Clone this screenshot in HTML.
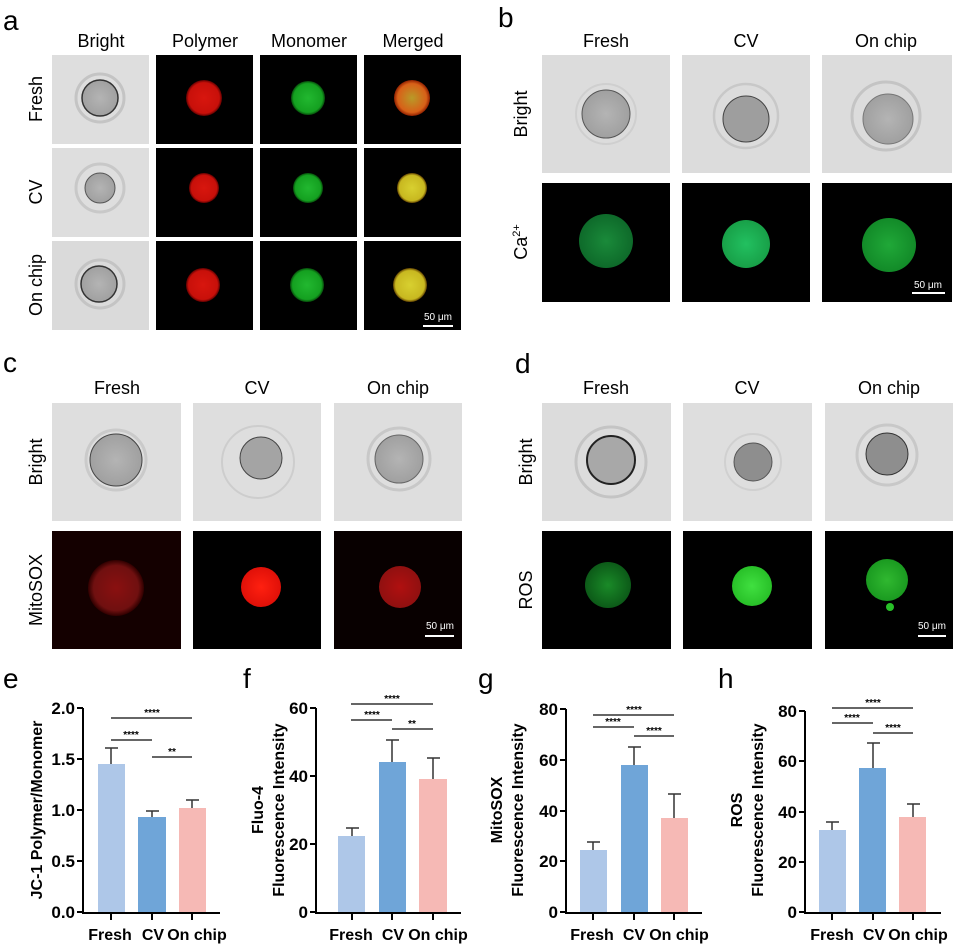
<!DOCTYPE html>
<html><head><meta charset="utf-8"><style>
html,body{margin:0;padding:0;background:#fff}
svg{display:block}
text{font-family:"Liberation Sans",Arial,sans-serif}
.h{font-size:18px;text-anchor:middle}
.L{font-size:28px}
.tk{font-size:17px;font-weight:bold;text-anchor:end}
.xl{font-size:16px;font-weight:bold;text-anchor:middle}
.yt{font-size:16px;font-weight:bold;text-anchor:middle}
.st{font-size:10px;font-weight:bold;text-anchor:middle}
.sb{font-size:10px;fill:#fff;text-anchor:middle}
</style></head><body>
<svg width="955" height="945" viewBox="0 0 955 945" xmlns="http://www.w3.org/2000/svg">
<defs>
<radialGradient id="gR"><stop offset="0" stop-color="#d8160e"/><stop offset="0.85" stop-color="#c8100a"/><stop offset="1" stop-color="#600000"/></radialGradient>
<radialGradient id="gG"><stop offset="0" stop-color="#22b830"/><stop offset="0.85" stop-color="#14a020"/><stop offset="1" stop-color="#064a0a"/></radialGradient>
<radialGradient id="gY"><stop offset="0" stop-color="#d8d030"/><stop offset="0.85" stop-color="#c8b820"/><stop offset="1" stop-color="#604000"/></radialGradient>
<radialGradient id="gO"><stop offset="0" stop-color="#b89a28"/><stop offset="0.8" stop-color="#d86018"/><stop offset="1" stop-color="#902000"/></radialGradient>
<radialGradient id="gG2"><stop offset="0" stop-color="#1a8a3a"/><stop offset="1" stop-color="#0e6a2a"/></radialGradient>
<radialGradient id="gG3"><stop offset="0" stop-color="#22c060"/><stop offset="1" stop-color="#18a048"/></radialGradient>
<radialGradient id="gG4"><stop offset="0" stop-color="#20a838"/><stop offset="1" stop-color="#128a28"/></radialGradient>
<radialGradient id="gRd"><stop offset="0" stop-color="#8a1010"/><stop offset="0.8" stop-color="#701010"/><stop offset="1" stop-color="#300000"/></radialGradient>
<radialGradient id="gRb"><stop offset="0" stop-color="#ff2010"/><stop offset="1" stop-color="#e01008"/></radialGradient>
<radialGradient id="gRm"><stop offset="0" stop-color="#b01010"/><stop offset="1" stop-color="#901010"/></radialGradient>
<radialGradient id="gGd"><stop offset="0" stop-color="#1a8a28"/><stop offset="1" stop-color="#0c5a18"/></radialGradient>
<radialGradient id="gGb"><stop offset="0" stop-color="#40e040"/><stop offset="1" stop-color="#28c028"/></radialGradient>
<radialGradient id="gGm"><stop offset="0" stop-color="#30b830"/><stop offset="1" stop-color="#1a9a20"/></radialGradient>
<radialGradient id="gCell"><stop offset="0" stop-color="#b4b4b4"/><stop offset="1" stop-color="#a0a0a0"/></radialGradient>
</defs>

<!-- Panel a -->
<text x="3" y="30" class="L">a</text>
<text x="101" y="47" class="h">Bright</text>
<text x="205" y="47" class="h">Polymer</text>
<text x="309" y="47" class="h">Monomer</text>
<text x="413" y="47" class="h">Merged</text>
<text class="h" transform="translate(42,99) rotate(-90)">Fresh</text>
<text class="h" transform="translate(42,192) rotate(-90)">CV</text>
<text class="h" transform="translate(42,285) rotate(-90)">On chip</text>
<rect x="52" y="55" width="97" height="89" fill="#dedede"/>
<circle cx="100" cy="98" r="24" fill="none" stroke="#c4c4c4" stroke-width="3"/>
<circle cx="100" cy="98" r="18" fill="url(#gCell)" stroke="#333" stroke-width="1.5"/>
<rect x="156" y="55" width="97" height="89" fill="#000"/><circle cx="204" cy="98" r="18" fill="url(#gR)"/>
<rect x="260" y="55" width="97" height="89" fill="#000"/><circle cx="308" cy="98" r="17" fill="url(#gG)"/>
<rect x="364" y="55" width="97" height="89" fill="#000"/><circle cx="412" cy="98" r="18" fill="url(#gO)"/>
<rect x="52" y="148" width="97" height="89" fill="#dedede"/>
<circle cx="100" cy="188" r="24" fill="none" stroke="#c8c8c8" stroke-width="3"/>
<circle cx="100" cy="188" r="15" fill="url(#gCell)" stroke="#555" stroke-width="1"/>
<rect x="156" y="148" width="97" height="89" fill="#000"/><circle cx="204" cy="188" r="15" fill="url(#gR)"/>
<rect x="260" y="148" width="97" height="89" fill="#000"/><circle cx="308" cy="188" r="15" fill="url(#gG)"/>
<rect x="364" y="148" width="97" height="89" fill="#000"/><circle cx="412" cy="188" r="15" fill="url(#gY)"/>
<rect x="52" y="241" width="97" height="89" fill="#dadada"/>
<circle cx="100" cy="284" r="24" fill="none" stroke="#c4c4c4" stroke-width="3"/>
<circle cx="99" cy="284" r="18" fill="url(#gCell)" stroke="#333" stroke-width="1.5"/>
<rect x="156" y="241" width="97" height="89" fill="#000"/><circle cx="203" cy="285" r="17" fill="url(#gR)"/>
<rect x="260" y="241" width="97" height="89" fill="#000"/><circle cx="307" cy="285" r="17" fill="url(#gG)"/>
<rect x="364" y="241" width="97" height="89" fill="#000"/><circle cx="410" cy="285" r="17" fill="url(#gY)"/>
<text x="438" y="320" class="sb">50 μm</text><rect x="423" y="325" width="30" height="2" fill="#fff"/>

<!-- Panel b -->
<text x="498" y="27" class="L">b</text>
<text x="606" y="47" class="h">Fresh</text>
<text x="746" y="47" class="h">CV</text>
<text x="886" y="47" class="h">On chip</text>
<text class="h" transform="translate(527,114) rotate(-90)">Bright</text>
<text class="h" transform="translate(527,242) rotate(-90)">Ca<tspan font-size="11" dy="-7">2+</tspan></text>
<rect x="542" y="55" width="128" height="118" fill="#dcdcdc"/>
<circle cx="606" cy="114" r="30" fill="none" stroke="#cfcfcf" stroke-width="2"/>
<circle cx="606" cy="114" r="24" fill="url(#gCell)" stroke="#555" stroke-width="1"/>
<rect x="682" y="55" width="128" height="118" fill="#dcdcdc"/>
<circle cx="746" cy="116" r="32" fill="none" stroke="#c8c8c8" stroke-width="2.5"/>
<circle cx="746" cy="119" r="23" fill="#9e9e9e" stroke="#444" stroke-width="1"/>
<rect x="822" y="55" width="130" height="118" fill="#dcdcdc"/>
<circle cx="886" cy="116" r="34" fill="none" stroke="#c4c4c4" stroke-width="3"/>
<circle cx="888" cy="119" r="25" fill="url(#gCell)" stroke="#777" stroke-width="1"/>
<rect x="542" y="183" width="128" height="119" fill="#000"/><circle cx="606" cy="241" r="27" fill="url(#gG2)"/>
<rect x="682" y="183" width="128" height="119" fill="#000"/><circle cx="746" cy="244" r="24" fill="url(#gG3)"/>
<rect x="822" y="183" width="130" height="119" fill="#000"/><circle cx="889" cy="245" r="27" fill="url(#gG4)"/>
<text x="928" y="288" class="sb">50 μm</text><rect x="912" y="292" width="33" height="2" fill="#fff"/>

<!-- Panel c -->
<text x="3" y="372" class="L">c</text>
<text x="117" y="394" class="h">Fresh</text>
<text x="257" y="394" class="h">CV</text>
<text x="398" y="394" class="h">On chip</text>
<text class="h" transform="translate(42,462) rotate(-90)">Bright</text>
<text class="h" transform="translate(42,590) rotate(-90)">MitoSOX</text>
<rect x="52" y="403" width="129" height="118" fill="#dedede"/>
<circle cx="116" cy="460" r="30" fill="none" stroke="#cacaca" stroke-width="3"/>
<circle cx="116" cy="460" r="26" fill="url(#gCell)" stroke="#444" stroke-width="1"/>
<rect x="193" y="403" width="128" height="118" fill="#dedede"/>
<circle cx="258" cy="462" r="36" fill="none" stroke="#cdcdcd" stroke-width="2"/>
<circle cx="261" cy="458" r="21" fill="#a4a4a4" stroke="#444" stroke-width="1"/>
<rect x="334" y="403" width="128" height="118" fill="#dedede"/>
<circle cx="399" cy="459" r="31" fill="none" stroke="#c8c8c8" stroke-width="3"/>
<circle cx="399" cy="459" r="24" fill="url(#gCell)" stroke="#666" stroke-width="1"/>
<rect x="52" y="531" width="129" height="118" fill="#140000"/><circle cx="116" cy="588" r="28" fill="url(#gRd)"/>
<rect x="193" y="531" width="128" height="118" fill="#000"/><circle cx="261" cy="587" r="20" fill="url(#gRb)"/>
<rect x="334" y="531" width="128" height="118" fill="#080000"/><circle cx="400" cy="587" r="21" fill="url(#gRm)"/>
<text x="440" y="629" class="sb">50 μm</text><rect x="425" y="635" width="29" height="2" fill="#fff"/>

<!-- Panel d -->
<text x="515" y="373" class="L">d</text>
<text x="606" y="394" class="h">Fresh</text>
<text x="747" y="394" class="h">CV</text>
<text x="889" y="394" class="h">On chip</text>
<text class="h" transform="translate(532,462) rotate(-90)">Bright</text>
<text class="h" transform="translate(532,590) rotate(-90)">ROS</text>
<rect x="542" y="403" width="129" height="118" fill="#dcdcdc"/>
<circle cx="611" cy="462" r="35" fill="none" stroke="#c4c4c4" stroke-width="3"/>
<circle cx="611" cy="460" r="24" fill="#a8a8a8" stroke="#222" stroke-width="2"/>
<rect x="683" y="403" width="129" height="118" fill="#dedede"/>
<circle cx="753" cy="462" r="28" fill="none" stroke="#d0d0d0" stroke-width="2"/>
<circle cx="753" cy="462" r="19" fill="#8e8e8e" stroke="#555" stroke-width="1"/>
<rect x="825" y="403" width="128" height="118" fill="#dedede"/>
<circle cx="887" cy="455" r="30" fill="none" stroke="#c8c8c8" stroke-width="3"/>
<circle cx="887" cy="454" r="21" fill="#8e8e8e" stroke="#333" stroke-width="1"/>
<rect x="542" y="531" width="129" height="118" fill="#000"/><circle cx="608" cy="585" r="23" fill="url(#gGd)"/>
<rect x="683" y="531" width="129" height="118" fill="#000"/><circle cx="752" cy="586" r="20" fill="url(#gGb)"/>
<rect x="825" y="531" width="128" height="118" fill="#000"/><circle cx="887" cy="580" r="21" fill="url(#gGm)"/><circle cx="890" cy="607" r="4" fill="#28c028"/>
<text x="932" y="629" class="sb">50 μm</text><rect x="918" y="635" width="28" height="2" fill="#fff"/>

<!-- Panel e -->
<text x="3" y="688" class="L">e</text>
<g stroke="#000" stroke-width="2" fill="none">
<path d="M83,708V913H220"/>
<path d="M77,708H83M77,759H83M77,810H83M77,861H83M77,912H83"/>
<path d="M111,913V920M152,913V920M192,913V920"/>
</g>
<rect x="98" y="764" width="27" height="148" fill="#aec7e8"/>
<rect x="138" y="817" width="28" height="95" fill="#6fa5d8"/>
<rect x="179" y="808" width="27" height="104" fill="#f6b9b5"/>
<g stroke="#333" stroke-width="1.5"><path d="M111,764V748M105,748H118M152,817V811M146,811H159M192,808V800M186,800H199"/>
<path d="M111,718H192M111,740H152M152,757H192"/></g>
<text x="152" y="716" class="st">****</text><text x="131" y="738" class="st">****</text><text x="172" y="755" class="st">**</text>
<g class="tk"><text x="75" y="714">2.0</text><text x="75" y="765">1.5</text><text x="75" y="816">1.0</text><text x="75" y="867">0.5</text><text x="75" y="918">0.0</text></g>
<g class="xl"><text x="110" y="940">Fresh</text><text x="153" y="940">CV</text><text x="197" y="940">On chip</text></g>
<text class="yt" transform="translate(42,810) rotate(-90)">JC-1 Polymer/Monomer</text>

<!-- Panel f -->
<text x="243" y="688" class="L">f</text>
<g stroke="#000" stroke-width="2" fill="none">
<path d="M316,708V913H461"/>
<path d="M310,708H316M310,776H316M310,844H316M310,912H316"/>
<path d="M352,913V920M392,913V920M433,913V920"/>
</g>
<rect x="338" y="836" width="27" height="76" fill="#aec7e8"/>
<rect x="379" y="762" width="27" height="150" fill="#6fa5d8"/>
<rect x="419" y="779" width="28" height="133" fill="#f6b9b5"/>
<g stroke="#333" stroke-width="1.5"><path d="M352,836V828M346,828H359M392,762V740M386,740H399M433,779V758M427,758H440"/>
<path d="M351,704H433M351,720H392M392,729H433"/></g>
<text x="392" y="702" class="st">****</text><text x="372" y="718" class="st">****</text><text x="412" y="727" class="st">**</text>
<g class="tk"><text x="308" y="714">60</text><text x="308" y="782">40</text><text x="308" y="850">20</text><text x="308" y="918">0</text></g>
<g class="xl"><text x="351" y="940">Fresh</text><text x="393" y="940">CV</text><text x="438" y="940">On chip</text></g>
<text class="yt" transform="translate(263,810) rotate(-90)">Fluo-4</text>
<text class="yt" transform="translate(284,810) rotate(-90)">Fluorescence Intensity</text>

<!-- Panel g -->
<text x="478" y="688" class="L">g</text>
<g stroke="#000" stroke-width="2" fill="none">
<path d="M566,709V913H702"/>
<path d="M560,709H566M560,760H566M560,811H566M560,861H566M560,912H566"/>
<path d="M593,913V920M634,913V920M674,913V920"/>
</g>
<rect x="580" y="850" width="27" height="62" fill="#aec7e8"/>
<rect x="621" y="765" width="27" height="147" fill="#6fa5d8"/>
<rect x="661" y="818" width="27" height="94" fill="#f6b9b5"/>
<g stroke="#333" stroke-width="1.5"><path d="M593,850V842M587,842H600M634,765V747M628,747H641M674,818V794M668,794H681"/>
<path d="M593,715H674M593,727H634M634,736H674"/></g>
<text x="634" y="713" class="st">****</text><text x="613" y="725" class="st">****</text><text x="654" y="734" class="st">****</text>
<g class="tk"><text x="558" y="715">80</text><text x="558" y="766">60</text><text x="558" y="817">40</text><text x="558" y="867">20</text><text x="558" y="918">0</text></g>
<g class="xl"><text x="592" y="940">Fresh</text><text x="634" y="940">CV</text><text x="679" y="940">On chip</text></g>
<text class="yt" transform="translate(502,810) rotate(-90)">MitoSOX</text>
<text class="yt" transform="translate(523,810) rotate(-90)">Fluorescence Intensity</text>

<!-- Panel h -->
<text x="718" y="688" class="L">h</text>
<g stroke="#000" stroke-width="2" fill="none">
<path d="M805,711V913H941"/>
<path d="M799,711H805M799,761H805M799,812H805M799,862H805M799,912H805"/>
<path d="M832,913V920M873,913V920M913,913V920"/>
</g>
<rect x="819" y="830" width="27" height="82" fill="#aec7e8"/>
<rect x="859" y="768" width="27" height="144" fill="#6fa5d8"/>
<rect x="899" y="817" width="27" height="95" fill="#f6b9b5"/>
<g stroke="#333" stroke-width="1.5"><path d="M832,830V822M826,822H839M873,768V743M867,743H880M913,817V804M907,804H920"/>
<path d="M832,708H913M832,723H873M873,733H913"/></g>
<text x="873" y="706" class="st">****</text><text x="852" y="721" class="st">****</text><text x="893" y="731" class="st">****</text>
<g class="tk"><text x="797" y="717">80</text><text x="797" y="767">60</text><text x="797" y="818">40</text><text x="797" y="868">20</text><text x="797" y="918">0</text></g>
<g class="xl"><text x="832" y="940">Fresh</text><text x="874" y="940">CV</text><text x="918" y="940">On chip</text></g>
<text class="yt" transform="translate(742,810) rotate(-90)">ROS</text>
<text class="yt" transform="translate(763,810) rotate(-90)">Fluorescence Intensity</text>
</svg>
</body></html>
